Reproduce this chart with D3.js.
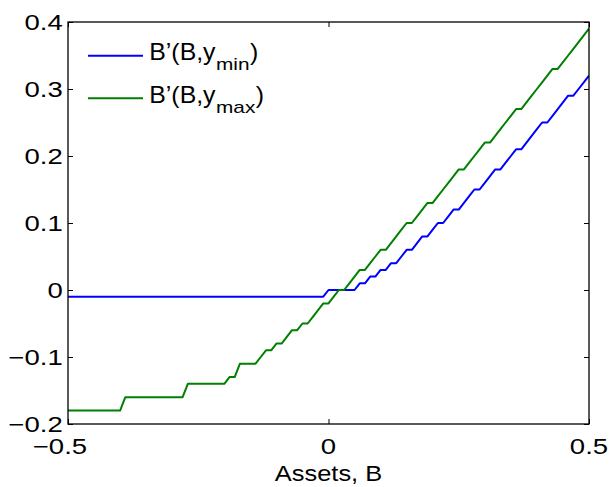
<!DOCTYPE html>
<html>
<head>
<meta charset="utf-8">
<script src="https://cdn.jsdelivr.net/npm/d3@7"></script>
<style>
  html, body { margin: 0; padding: 0; background: #fff; }
  svg { display: block; }
  text { font-family: "Liberation Sans", Arial, Helvetica, sans-serif; fill: #000; }
</style>
</head>
<body>
<svg id="chart" width="609" height="487"></svg>
<script>
// Asset grid B
const assets = [
  -0.50, -0.49, -0.48, -0.47, -0.46, -0.45, -0.44, -0.43, -0.42, -0.41,
  -0.40, -0.39, -0.38, -0.37, -0.36, -0.35, -0.34, -0.33, -0.32, -0.31,
  -0.30, -0.29, -0.28, -0.27, -0.26, -0.25, -0.24, -0.23, -0.22, -0.21,
  -0.20, -0.19, -0.18, -0.17, -0.16, -0.15, -0.14, -0.13, -0.12, -0.11,
  -0.10, -0.09, -0.08, -0.07, -0.06, -0.05, -0.04, -0.03, -0.02, -0.01,
   0.00,  0.01,  0.02,  0.03,  0.04,  0.05,  0.06,  0.07,  0.08,  0.09,
   0.10,  0.11,  0.12,  0.13,  0.14,  0.15,  0.16,  0.17,  0.18,  0.19,
   0.20,  0.21,  0.22,  0.23,  0.24,  0.25,  0.26,  0.27,  0.28,  0.29,
   0.30,  0.31,  0.32,  0.33,  0.34,  0.35,  0.36,  0.37,  0.38,  0.39,
   0.40,  0.41,  0.42,  0.43,  0.44,  0.45,  0.46,  0.47,  0.48,  0.49,
   0.50
];

// Policy B'(B, y_min)
const policyYmin = [
  -0.01, -0.01, -0.01, -0.01, -0.01, -0.01, -0.01, -0.01, -0.01, -0.01,
  -0.01, -0.01, -0.01, -0.01, -0.01, -0.01, -0.01, -0.01, -0.01, -0.01,
  -0.01, -0.01, -0.01, -0.01, -0.01, -0.01, -0.01, -0.01, -0.01, -0.01,
  -0.01, -0.01, -0.01, -0.01, -0.01, -0.01, -0.01, -0.01, -0.01, -0.01,
  -0.01, -0.01, -0.01, -0.01, -0.01, -0.01, -0.01, -0.01, -0.01, -0.01,
   0.00,  0.00,  0.00,  0.00,  0.00,  0.00,  0.01,  0.01,  0.02,  0.02,
   0.03,  0.03,  0.04,  0.04,  0.05,  0.06,  0.06,  0.07,  0.08,  0.08,
   0.09,  0.10,  0.10,  0.11,  0.12,  0.12,  0.13,  0.14,  0.15,  0.15,
   0.16,  0.17,  0.18,  0.18,  0.19,  0.20,  0.21,  0.21,  0.22,  0.23,
   0.24,  0.25,  0.25,  0.26,  0.27,  0.28,  0.29,  0.29,  0.30,  0.31,
   0.32
];

// Policy B'(B, y_max)
const policyYmax = [
  -0.18, -0.18, -0.18, -0.18, -0.18, -0.18, -0.18, -0.18, -0.18, -0.18,
  -0.18, -0.16, -0.16, -0.16, -0.16, -0.16, -0.16, -0.16, -0.16, -0.16,
  -0.16, -0.16, -0.16, -0.14, -0.14, -0.14, -0.14, -0.14, -0.14, -0.14,
  -0.14, -0.13, -0.13, -0.11, -0.11, -0.11, -0.11, -0.10, -0.09, -0.09,
  -0.08, -0.08, -0.07, -0.06, -0.06, -0.05, -0.05, -0.04, -0.03, -0.02,
  -0.02, -0.01,  0.00,  0.00,  0.01,  0.02,  0.03,  0.03,  0.04,  0.05,
   0.06,  0.06,  0.07,  0.08,  0.09,  0.10,  0.10,  0.11,  0.12,  0.13,
   0.13,  0.14,  0.15,  0.16,  0.17,  0.18,  0.18,  0.19,  0.20,  0.21,
   0.22,  0.22,  0.23,  0.24,  0.25,  0.26,  0.27,  0.27,  0.28,  0.29,
   0.30,  0.31,  0.32,  0.33,  0.33,  0.34,  0.35,  0.36,  0.37,  0.38,
   0.39
];

const xTicks = [-0.5, 0, 0.5];
const yTicks = [-0.2, -0.1, 0, 0.1, 0.2, 0.3, 0.4];
const seriesSubscripts = ["min", "max"];
const seriesColors = ["#0000ff", "#008000"];
const xAxisTitle = "Assets, B";

const svg = d3.select("#chart");
const plot = { left: 68, right: 589, top: 22, bottom: 424 };

const x = d3.scaleLinear().domain([-0.5, 0.5]).range([plot.left, plot.right]);
const y = d3.scaleLinear().domain([-0.2, 0.4]).range([plot.bottom, plot.top]);

const fmt = v => (v < 0 ? "\u2212" : "") + d3.format("")(Math.abs(v));

// text helper: horizontally stretched glyphs, returns rendered width
function measure(str, size) {
  const t = svg.append("text").attr("font-size", size).text(str);
  const w = t.node().getComputedTextLength();
  t.remove();
  return w;
}
function addText(g, str, px, py, size, sx, anchor) {
  g.append("text")
    .attr("font-size", size)
    .attr("text-anchor", anchor || "start")
    .attr("transform", `translate(${px},${py}) scale(${sx},1)`)
    .text(str);
  return measure(str, size) * sx;
}

// clip region for the curves
svg.append("defs").append("clipPath").attr("id", "plotClip")
  .append("rect")
  .attr("x", plot.left).attr("y", plot.top)
  .attr("width", plot.right - plot.left).attr("height", plot.bottom - plot.top);

// curves
const line = d3.line()
  .x((d, i) => x(assets[i]))
  .y(d => y(d));

const curves = svg.append("g").attr("clip-path", "url(#plotClip)");
[policyYmin, policyYmax].forEach((series, k) => {
  curves.append("path")
    .datum(series)
    .attr("d", line)
    .attr("fill", "none")
    .attr("stroke", seriesColors[k])
    .attr("stroke-width", 2)
    .attr("stroke-linejoin", "round");
});

// axes with inward ticks on all four sides
const tickLen = 5;
svg.append("g").attr("transform", `translate(0,${plot.bottom})`)
  .call(d3.axisBottom(x).tickValues(xTicks).tickSizeInner(-tickLen).tickSizeOuter(0).tickFormat(""));
svg.append("g").attr("transform", `translate(0,${plot.top})`)
  .call(d3.axisTop(x).tickValues(xTicks).tickSizeInner(-tickLen).tickSizeOuter(0).tickFormat(""));
svg.append("g").attr("transform", `translate(${plot.left},0)`)
  .call(d3.axisLeft(y).tickValues(yTicks).tickSizeInner(-tickLen).tickSizeOuter(0).tickFormat(""));
svg.append("g").attr("transform", `translate(${plot.right},0)`)
  .call(d3.axisRight(y).tickValues(yTicks).tickSizeInner(-tickLen).tickSizeOuter(0).tickFormat(""));
svg.selectAll(".domain").remove();
svg.selectAll(".tick line").attr("stroke", "#000").attr("stroke-width", 1);

// frame
svg.append("rect")
  .attr("x", plot.left).attr("y", plot.top)
  .attr("width", plot.right - plot.left).attr("height", plot.bottom - plot.top)
  .attr("fill", "none").attr("stroke", "#000").attr("stroke-width", 1.3);

// tick labels
const labels = svg.append("g");
const tickSize = 21.5, tickSx = 1.28;
yTicks.forEach(v => {
  addText(labels, fmt(v), plot.left - 5.3, y(v) + 8.3, tickSize, tickSx, "end");
});
xTicks.forEach(v => {
  const numW = measure(d3.format("")(Math.abs(v)), tickSize) * tickSx;
  addText(labels, fmt(v), x(v) + numW / 2, plot.bottom + 30, tickSize, tickSx, "end");
});

// axis title
addText(svg, xAxisTitle, (plot.left + plot.right) / 2, 480.7, 22.5, 1.13, "middle");

// legend
const legend = svg.append("g");
const legendRows = [55.7, 98.3];
seriesSubscripts.forEach((sub, k) => {
  const ly = legendRows[k];
  legend.append("line")
    .attr("x1", 88).attr("x2", 143)
    .attr("y1", ly).attr("y2", ly)
    .attr("stroke", seriesColors[k]).attr("stroke-width", 2);
  let cx = 149.3;
  cx += addText(legend, "B\u2019(B,y", cx, ly + 4.5, 23, 1.08, "start");
  cx += addText(legend, sub, cx + 0.5, ly + 14.5, 16, 1.3, "start") + 1;
  addText(legend, ")", cx, ly + 4.5, 23, 1.08, "start");
});
</script>
</body>
</html>
